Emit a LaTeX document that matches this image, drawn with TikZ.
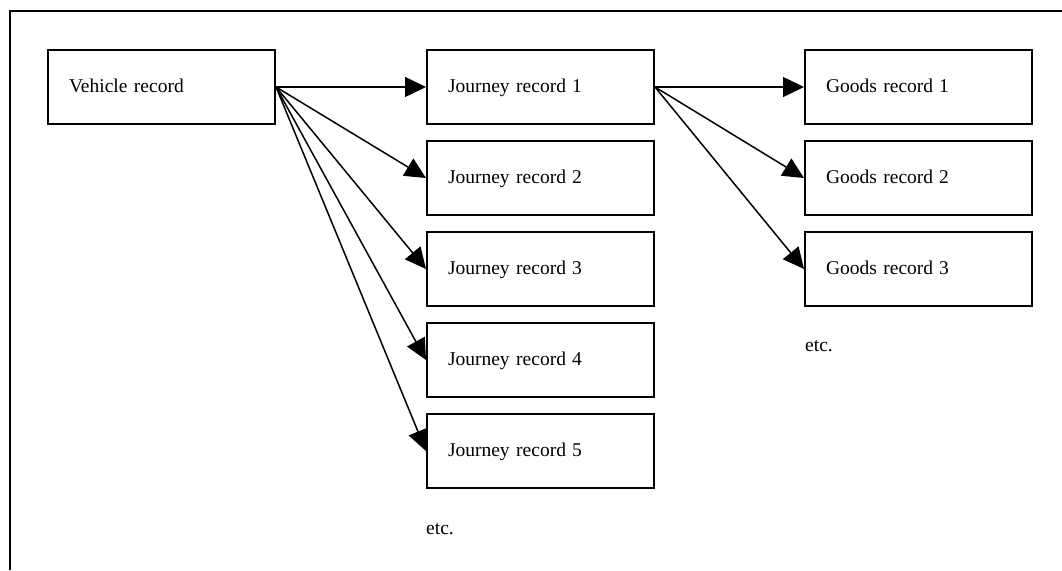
\documentclass[tikz,border=0pt]{standalone}
\usepackage{fontspec}
\setmainfont{Liberation Serif}
\usetikzlibrary{arrows.meta}
\newcommand{\numgap}{\hspace{6pt}}
\begin{document}
\begin{tikzpicture}[x=1pt,y=-1pt,
  recbox/.style={draw, line width=2pt, minimum width=227pt, minimum height=74pt,
    text width=185pt, inner xsep=21pt, inner ysep=0pt, align=left, anchor=north west,
    font=\fontsize{19.5}{22}\selectfont, text height=15pt, text depth=4pt},
  link/.style={line width=1.5pt, -{Triangle[length=21pt,width=20pt]}},
  note/.style={anchor=base west, inner sep=0pt, font=\fontsize{19.5}{22}\selectfont},
  frame/.style={line width=2pt}]
\useasboundingbox (0,0) rectangle (1062,570);
\draw[frame] (1062,11) -- (10,11) -- (10,570);
\node[recbox] (v) at (47,49) {Vehicle record};
\node[recbox] (j1) at (426,49) {Journey record\numgap 1};
\node[recbox] (j2) at (426,140) {Journey record\numgap 2};
\node[recbox] (j3) at (426,231) {Journey record\numgap 3};
\node[recbox] (j4) at (426,322) {Journey record\numgap 4};
\node[recbox] (j5) at (426,413) {Journey record\numgap 5};
\node[recbox] (g1) at (804,49) {Goods record\numgap 1};
\node[recbox] (g2) at (804,140) {Goods record\numgap 2};
\node[recbox] (g3) at (804,231) {Goods record\numgap 3};
\node[note] (etcj) at (426,534) {etc.};
\node[note] (etcg) at (805,351) {etc.};
\foreach \t in {j1,j2,j3,j4,j5} \draw[link] (v.east) -- (\t.west);
\foreach \t in {g1,g2,g3} \draw[link] (j1.east) -- (\t.west);
\end{tikzpicture}
\end{document}
